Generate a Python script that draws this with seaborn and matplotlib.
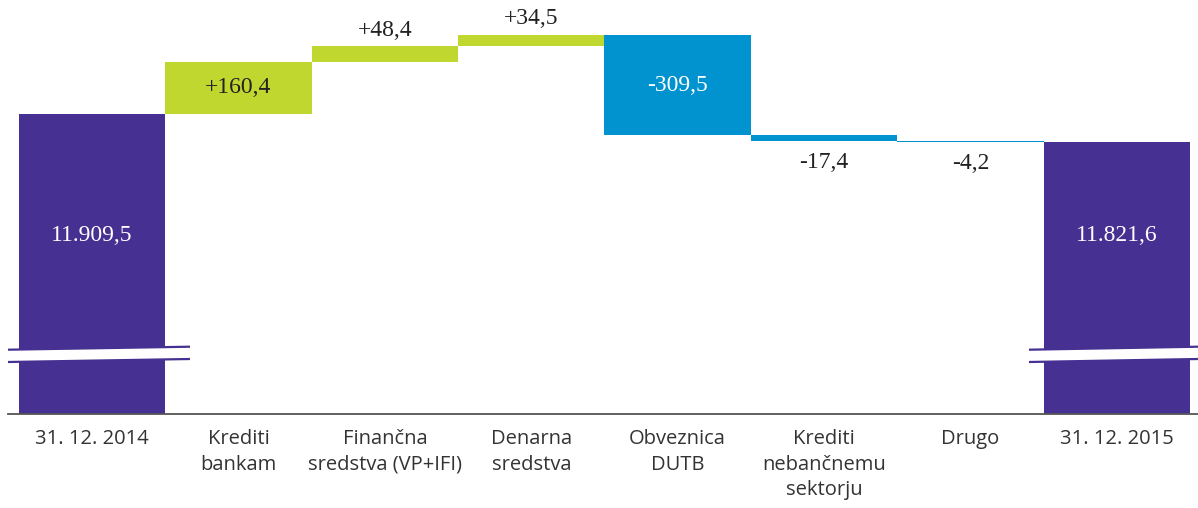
import matplotlib
matplotlib.use("Agg")
import matplotlib.pyplot as plt
import seaborn as sns
import pandas as pd
import numpy as np

# ---- data ----
categories = ["31. 12. 2014", "Krediti\nbankam", "Finančna\nsredstva (VP+IFI)",
              "Denarna\nsredstva", "Obveznica\nDUTB", "Krediti\nnebančnemu\nsektorju",
              "Drugo", "31. 12. 2015"]
start_value = 11909.5
changes = [160.4, 48.4, 34.5, -309.5, -17.4, -4.2]
end_value = 11821.6
value_labels = ["11.909,5", "+160,4", "+48,4", "+34,5", "-309,5", "-17,4", "-4,2", "11.821,6"]

PURPLE = "#463091"
GREEN = "#C0D72F"
BLUE = "#0093D0"

# compute floating bars
bottoms, tops = [], []
y_min_axis = 10986
y_max_axis = 12260
bottoms.append(y_min_axis); tops.append(start_value)
level = start_value
for c in changes:
    lo, hi = sorted([level, level + c])
    bottoms.append(lo); tops.append(hi)
    level += c
bottoms.append(y_min_axis); tops.append(end_value)
colors = [PURPLE] + [GREEN if c > 0 else BLUE for c in changes] + [PURPLE]

df = pd.DataFrame({"cat": categories, "height": np.array(tops) - np.array(bottoms)})

sns.set_theme(style="white")
plt.rcParams["font.family"] = ["Open Sans", "DejaVu Sans"]

fig = plt.figure(figsize=(11.98, 5.08), dpi=100)
ax = fig.add_axes([8/1198, 94/508, 1190/1198, 414/508])

sns.barplot(data=df, x="cat", y="height", hue="cat", palette=colors,
            width=1.0, legend=False, ax=ax, saturation=1, linewidth=0)
for p, b in zip(ax.patches, bottoms):
    p.set_y(b)

ax.set_ylim(y_min_axis, y_max_axis)
ax.set_xlim(-0.575, 7.555)
ax.set_xlabel(""); ax.set_ylabel("")
ax.set_yticks([])
for s in ["top", "right", "left"]:
    ax.spines[s].set_visible(False)
ax.spines["bottom"].set_color("#555555")
ax.spines["bottom"].set_linewidth(1.3)
ax.tick_params(axis="x", length=0, pad=11, labelsize=14.5, labelcolor="#333333")
ax.set_xticks(range(len(categories)))
ax.set_xticklabels(categories, linespacing=1.35)

serif = ["Liberation Serif", "DejaVu Serif"]
fs = 17
# value labels
for i, txt in enumerate(value_labels):
    b, t = bottoms[i], tops[i]
    if i in (0, len(value_labels) - 1):
        ax.text(i, 0.432, txt, transform=ax.get_xaxis_transform(), ha="center", va="center",
                color="white", fontsize=fs, family=serif)
    elif i == 1:
        ax.text(i, (b + t) / 2, txt, ha="center", va="center", color="#222222", fontsize=fs, family=serif)
    elif i == 4:
        ax.text(i, (b + t) / 2, txt, ha="center", va="center", color="white", fontsize=fs, family=serif)
    elif changes[i - 1] > 0:
        ax.annotate(txt, (i, t), xytext=(0, 16 * 0.72), textcoords="offset points",
                    ha="center", va="center", color="#222222", fontsize=fs, family=serif)
    else:
        ax.annotate(txt, (i, b), xytext=(0, -21.5 * 0.72), textcoords="offset points",
                    ha="center", va="center", color="#222222", fontsize=fs, family=serif)

# axis break marks
def axfrac_y(py):
    return (414 - py) / 414

def axfrac_x(px):
    return (px - 8) / 1190

for x0, x1 in [(8, 190), (1029, 1198)]:
    ax0, ax1 = axfrac_x(x0), axfrac_x(x1)
    up_l, up_r = axfrac_y(349.7), axfrac_y(346.7)
    lo_l, lo_r = axfrac_y(362), axfrac_y(359)
    ax.fill([ax0, ax1, ax1, ax0], [up_l, up_r, lo_r, lo_l], color="white",
            transform=ax.transAxes, clip_on=False, zorder=5, lw=0)
    ax.plot([ax0, ax1], [up_l, up_r], color=PURPLE, lw=1.6, transform=ax.transAxes,
            clip_on=False, zorder=6, solid_capstyle="butt")
    ax.plot([ax0, ax1], [lo_l, lo_r], color=PURPLE, lw=1.6, transform=ax.transAxes,
            clip_on=False, zorder=6, solid_capstyle="butt")

fig.savefig("out.png", dpi=100, facecolor="white")
